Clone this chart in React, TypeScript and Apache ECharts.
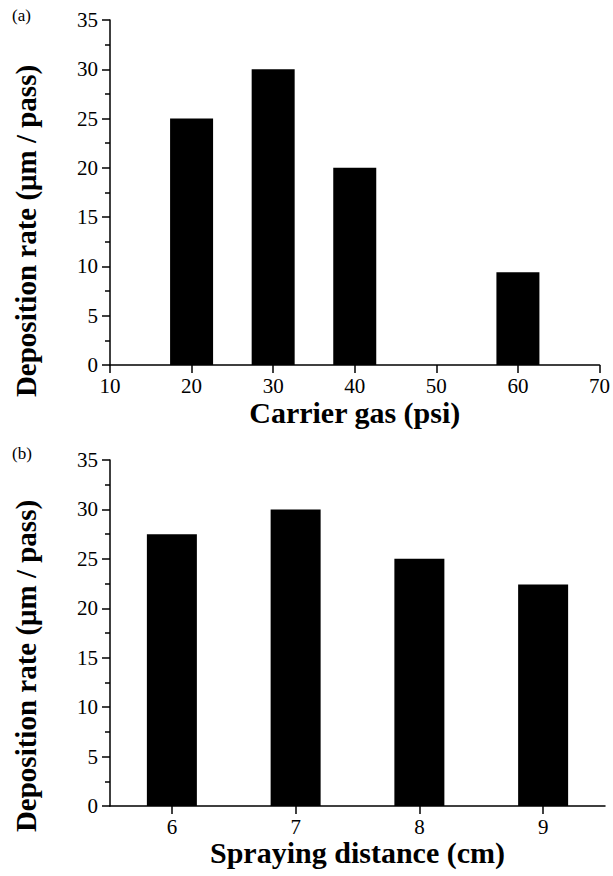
import React, { useEffect, useRef } from "react";
import * as echarts from "echarts";

const carrierGas = [20, 30, 40, 60];
const rateA = [25, 30, 20, 9.4];
const sprayDistance = ["6", "7", "8", "9"];
const rateB = [27.5, 30, 25, 22.4];
const yTitle = "Deposition rate (\u03bcm / pass)";

const FONT = "Liberation Serif, Times New Roman, serif";

export default function App() {
  const ref = useRef<HTMLDivElement>(null);
  useEffect(() => {
    document.body.style.margin = "0";
    const chart = echarts.init(ref.current!, null, { renderer: "svg" });
    const axisLine = { show: true, lineStyle: { color: "#000", width: 1.5 } };
    const yAxisCommon = {
      type: "value",
      min: 0,
      max: 35,
      interval: 5,
      axisLine,
      axisTick: { show: true, inside: false, length: 8, lineStyle: { color: "#000", width: 1.5 } },
      minorTick: { show: true, splitNumber: 2, length: 5, lineStyle: { color: "#000", width: 1.5 } },
      splitLine: { show: false },
      axisLabel: { color: "#000", fontFamily: FONT, fontSize: 21, margin: 12 },
    };
    const titleStyle = { color: "#000", fontFamily: FONT, fontSize: 30, fontWeight: "bold" };
    chart.setOption({
      animation: false,
      backgroundColor: "#fff",
      grid: [
        { left: 110, top: 20, width: 492, height: 345 },
        { left: 110, top: 460, width: 495, height: 346 },
      ],
      xAxis: [
        {
          gridIndex: 0,
          type: "value",
          min: 10,
          max: 70,
          interval: 10,
          axisLine,
          axisTick: { show: true, length: 8, lineStyle: { color: "#000", width: 1.5 } },
          splitLine: { show: false },
          axisLabel: { color: "#000", fontFamily: FONT, fontSize: 21, margin: 10 },
          name: "Carrier gas (psi)",
          nameLocation: "middle",
          nameGap: 32,
          nameTextStyle: titleStyle,
        },
        {
          gridIndex: 1,
          type: "category",
          data: sprayDistance,
          boundaryGap: true,
          axisLine,
          axisTick: { show: true, alignWithLabel: true, length: 8, lineStyle: { color: "#000", width: 1.5 } },
          splitLine: { show: false },
          axisLabel: { color: "#000", fontFamily: FONT, fontSize: 21, margin: 10 },
          name: "Spraying distance (cm)",
          nameLocation: "middle",
          nameGap: 30,
          nameTextStyle: titleStyle,
        },
      ],
      yAxis: [
        { gridIndex: 0, ...yAxisCommon },
        { gridIndex: 1, ...yAxisCommon },
      ],
      graphic: [
        {
          type: "text",
          left: 12,
          top: 7,
          style: { text: "(a)", fill: "#000", font: `17px ${FONT}` },
        },
        {
          type: "text",
          left: 12,
          top: 445,
          style: { text: "(b)", fill: "#000", font: `17px ${FONT}` },
        },
        {
          type: "text",
          x: 26,
          y: 231,
          rotation: Math.PI / 2,
          style: {
            text: yTitle,
            fill: "#000",
            font: `bold 29px ${FONT}`,
            align: "center",
            verticalAlign: "middle",
          },
        },
        {
          type: "text",
          x: 26,
          y: 666,
          rotation: Math.PI / 2,
          style: {
            text: yTitle,
            fill: "#000",
            font: `bold 29px ${FONT}`,
            align: "center",
            verticalAlign: "middle",
          },
        },
      ],
      series: [
        {
          type: "bar",
          xAxisIndex: 0,
          yAxisIndex: 0,
          data: carrierGas.map((x, i) => [x, rateA[i]]),
          barWidth: 43,
          itemStyle: { color: "#000" },
        },
        {
          type: "bar",
          xAxisIndex: 1,
          yAxisIndex: 1,
          data: rateB,
          barWidth: 50,
          itemStyle: { color: "#000" },
        },
      ],
    });
    return () => chart.dispose();
  }, []);
  return <div ref={ref} style={{ width: 613, height: 876 }} />;
}
